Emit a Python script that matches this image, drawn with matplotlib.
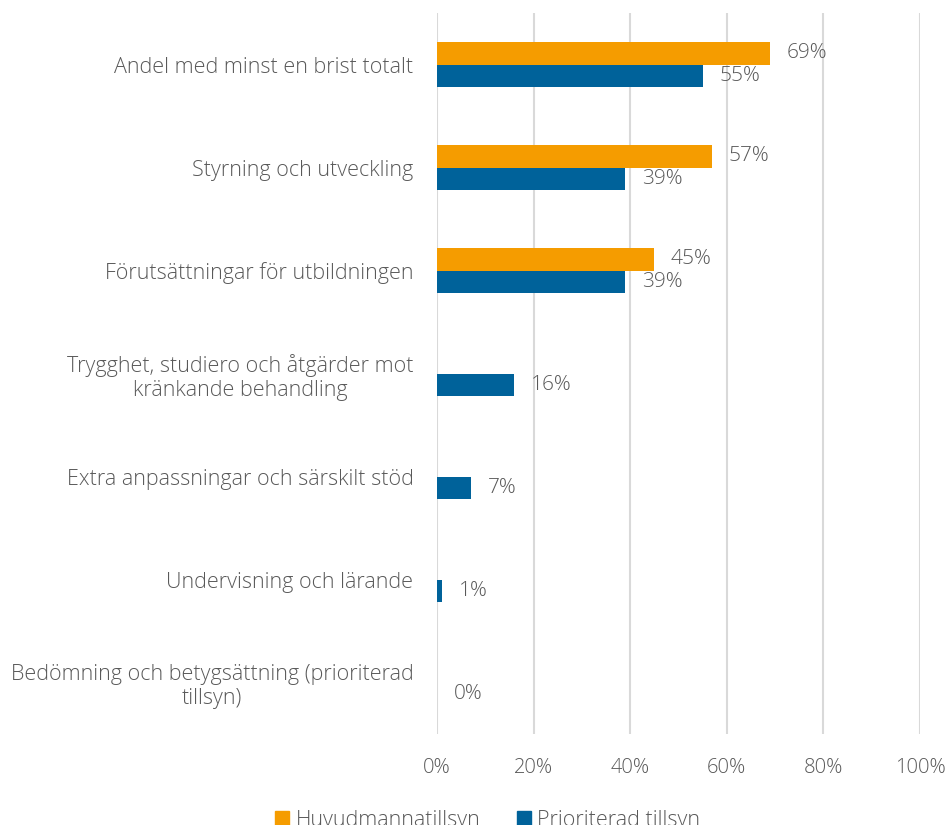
import matplotlib.pyplot as plt
import numpy as np

kategorier = [
    "Andel med minst en brist totalt",
    "Styrning och utveckling",
    "Förutsättningar för utbildningen",
    "Trygghet, studiero och åtgärder mot\nkränkande behandling",
    "Extra anpassningar och särskilt stöd",
    "Undervisning och lärande",
    "Bedömning och betygsättning (prioriterad\ntillsyn)",
]
huvudman = [69, 57, 45, None, None, None, None]
prioriterad = [55, 39, 39, 16, 7, 1, 0]

ORANGE = "#F59C00"
BLA = "#00629A"
GRA = "#595959"

plt.rcParams['font.family'] = ['Open Sans', 'DejaVu Sans']
plt.rcParams['font.weight'] = 'light'

fig = plt.figure(figsize=(9.47, 8.25), dpi=100)
ax = fig.add_axes([437 / 947, 1 - 734 / 825, 483 / 947, 721 / 825])

y = np.arange(len(kategorier))
h = 0.215

# orange staplar (bara de tre översta)
for i, v in enumerate(huvudman):
    if v is None:
        continue
    ax.barh(y[i] - h / 2, v, height=h, color=ORANGE, linewidth=0, zorder=3)
    ax.annotate(f"{v}%", (v, y[i] - h / 2), xytext=(12, 0), textcoords="offset points",
                va="center", ha="left", fontsize=15, color=GRA)

for i, v in enumerate(prioriterad):
    ax.barh(y[i] + h / 2, v, height=h, color=BLA, linewidth=0, zorder=3)
    ax.annotate(f"{v}%", (v, y[i] + h / 2), xytext=(12, 0), textcoords="offset points",
                va="center", ha="left", fontsize=15, color=GRA)

ax.set_xlim(0, 100)
ax.set_ylim(len(kategorier) - 0.5, -0.5)
ax.set_xticks(np.arange(0, 101, 20))
ax.set_xticklabels([f"{t}%" for t in range(0, 101, 20)])
ax.set_yticks(y)
ax.set_yticklabels(kategorier)
for lab in ax.get_yticklabels():
    lab.set_multialignment("center")

ax.tick_params(axis="x", length=0, pad=17, labelsize=14.5, labelcolor=GRA)
ax.tick_params(axis="y", length=0, pad=17, labelsize=15.5, labelcolor=GRA)
ax.grid(axis="x", color="#D9D9D9", linewidth=1.5, zorder=0)
for s in ax.spines.values():
    s.set_visible(False)

handles = [plt.Rectangle((0, 0), 1, 1, color=ORANGE), plt.Rectangle((0, 0), 1, 1, color=BLA)]
fig.legend(handles, ["Huvudmannatillsyn", "Prioriterad tillsyn"], loc="center",
           bbox_to_anchor=(0.515, 0.006), ncol=2, frameon=False, fontsize=15.5,
           labelcolor=GRA, handlelength=0.65, handleheight=0.65, handletextpad=0.3,
           columnspacing=1.7, borderpad=0)

fig.savefig("out.png", dpi=100)
